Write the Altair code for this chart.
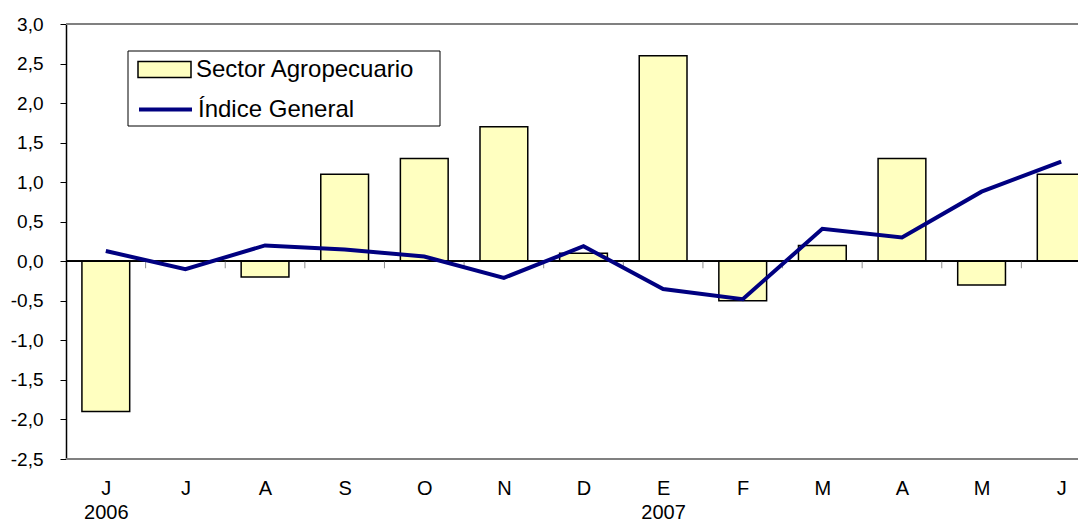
import json
import altair as alt
import pandas as pd

months = ["J", "J", "A", "S", "O", "N", "D", "E", "F", "M", "A", "M", "J"]
years = ["2006", "", "", "", "", "", "", "2007", "", "", "", "", ""]
sector = [-1.9, 0.0, -0.2, 1.1, 1.3, 1.7, 0.1, 2.6, -0.5, 0.2, 1.3, -0.3, 1.1]
indice = [0.13, -0.10, 0.20, 0.15, 0.06, -0.21, 0.19, -0.35, -0.48, 0.41, 0.30, 0.88, 1.26]
y_ticks = [-2.5, -2.0, -1.5, -1.0, -0.5, 0.0, 0.5, 1.0, 1.5, 2.0, 2.5, 3.0]
y_min, y_max = -2.5, 3.0
name_bar = "Sector Agropecuario"
name_line = "Índice General"

FONT = "Liberation Sans"

df = pd.DataFrame({
    "idx": list(range(len(months))),
    "sector": sector,
    "indice": indice,
    "s_name": [name_bar] * len(months),
    "i_name": [name_line] * len(months),
})
bounds = pd.DataFrame({"b": [i + 0.5 for i in range(len(months) - 1)]})
frame = pd.DataFrame({"v": [y_min, y_max]})

label_expr = "[" + json.dumps(months) + "[datum.value], " + json.dumps(years) + "[datum.value]]"

# the full category axis extends a little beyond the visible page (as in the reference)
x_scale = alt.Scale(domain=[-0.5, len(months) - 0.5], nice=False, zero=False, range=[0, 1035])
y_scale = alt.Scale(domain=[y_min, y_max], nice=False, zero=False)

x_axis = alt.Axis(
    values=list(range(len(months))), tickCount=len(months) + 5, labelExpr=label_expr,
    title=None, grid=False, domain=False, ticks=False, labelFont=FONT, labelFontSize=20,
    labelColor="black", labelPadding=19, labelLineHeight=24, labelBaseline="top",
    labelOverlap=False,
)
y_axis = alt.Axis(
    values=y_ticks, tickCount=len(y_ticks) + 5, title=None, grid=False,
    labelOverlap=False, labelFlush=False,
    labelExpr="(datum.value < 0 ? '-' : '') + replace(format(abs(datum.value), '.1f'), '.', ',')",
    labelFont=FONT, labelFontSize=19, labelColor="black", labelPadding=17,
    tickSize=6, tickColor="black", tickWidth=1, domainColor="black", domainWidth=1.5,
)

base = alt.Chart(df)

frame_rules = alt.Chart(frame).mark_rule(color="#808080", strokeWidth=2).encode(
    y=alt.Y("v:Q", scale=y_scale, axis=y_axis)
)

bars = base.mark_rect(stroke="black", strokeWidth=1.5).transform_calculate(
    lo="datum.idx - 0.3", hi="datum.idx + 0.3"
).encode(
    x=alt.X("lo:Q", scale=x_scale, axis=x_axis),
    x2="hi:Q",
    y=alt.Y("sector:Q", scale=y_scale, axis=y_axis),
    y2=alt.datum(0),
    fill=alt.Fill("s_name:N", scale=alt.Scale(domain=[name_bar], range=["#FFFFC0"]),
                  legend=alt.Legend(
                      orient="none", legendX=71, legendY=18, title=None,
                      symbolType="M-1,-0.3H1V0.3H-1Z", symbolSize=2809,
                      symbolStrokeColor="black", symbolStrokeWidth=1.5, symbolOpacity=1,
                      symbolFillColor="#FFFFC0",
                      labelFont=FONT, labelFontSize=24, labelColor="black", labelOffset=4,
                      labelLimit=0, padding=0,
                  )),
)

zero = base.mark_rule(color="black", strokeWidth=1).encode(y=alt.datum(0))

ticks = alt.Chart(bounds).mark_tick(color="#606060", thickness=1, size=7, yOffset=3.5, orient="vertical").encode(
    x=alt.X("b:Q", scale=x_scale), y=alt.datum(0)
)

line = base.mark_line(strokeWidth=4).encode(
    x=alt.X("idx:Q", scale=x_scale),
    y=alt.Y("indice:Q", scale=y_scale),
    stroke=alt.Stroke("i_name:N", scale=alt.Scale(domain=[name_line], range=["#000080"]),
                      legend=alt.Legend(
                          orient="none", legendX=71, legendY=57, title=None,
                          symbolType="stroke", symbolSize=2809, symbolStrokeWidth=4,
                          labelFont=FONT, labelFontSize=24, labelColor="black", labelOffset=4,
                          labelLimit=0, padding=0,
                      )),
)

box = alt.Chart(pd.DataFrame({"k": [0]})).mark_rect(fill="white", stroke="black", strokeWidth=1).encode(
    x=alt.value(62), x2=alt.value(374), y=alt.value(27), y2=alt.value(102)
)

chart = alt.layer(frame_rules, bars, zero, ticks, line, box).resolve_legend(
    fill="independent", stroke="independent"
).properties(
    width=1012, height=435,
    autosize=alt.AutoSizeParams(type="none"),
    padding={"left": 58, "top": 16, "right": 0, "bottom": 90},
).configure_view(stroke=None).configure(background="white")

chart.save("out.html", embed_options={"renderer": "svg", "actions": False})
